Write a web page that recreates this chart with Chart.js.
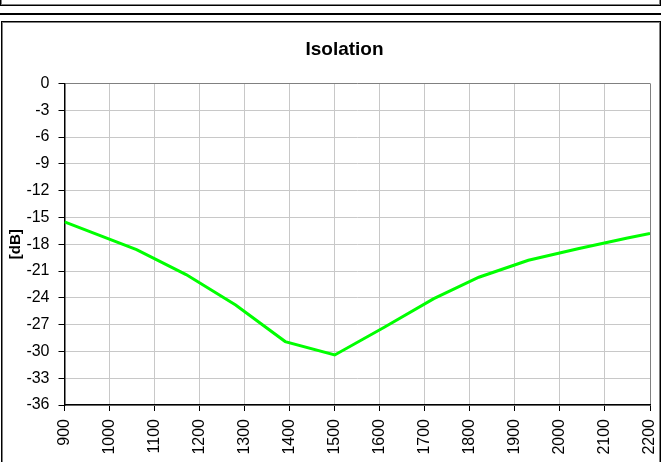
<!DOCTYPE html>
<html>
<head>
<meta charset="utf-8">
<script src="https://cdn.jsdelivr.net/npm/chart.js@4"></script>
<style>
  body { margin: 0; background: #fff; width: 661px; height: 462px; overflow: hidden; position: relative; }
  .box { position: absolute; border: 1px solid #000; box-shadow: inset 1px 1px 0 #808080, inset -1px -1px 0 #808080; box-sizing: border-box; }
  #topbox { left: 0; top: -10px; width: 661px; height: 16px; }
  #bar { position: absolute; left: 0; top: 13px; width: 661px; height: 2px; background: #000; }
  #mainbox { left: 1px; top: 21px; width: 660px; height: 460px; }
  #wrap { position: absolute; left: 0; top: 0; width: 661px; height: 462px; }
</style>
</head>
<body>
<div class="box" id="topbox"></div>
<div id="bar"></div>
<div class="box" id="mainbox"></div>
<div id="wrap"><canvas id="isolation-chart"></canvas></div>
<script>
var freqs = [900, 1060, 1170, 1280, 1390, 1500, 1610, 1720, 1820, 1930, 2040, 2150, 2200];
var isolation = [-15.5, -18.6, -21.4, -24.8, -28.9, -30.4, -27.3, -24.1, -21.7, -19.8, -18.5, -17.3, -16.8];
var yTicks = [0, -3, -6, -9, -12, -15, -18, -21, -24, -27, -30, -33, -36];
var xTicks = [900, 1000, 1100, 1200, 1300, 1400, 1500, 1600, 1700, 1800, 1900, 2000, 2100, 2200];

var font = "'Liberation Sans', Arial, sans-serif";
Chart.defaults.font.family = font;
Chart.defaults.color = '#000';

// title in the reference sits a bit right of the canvas centre
var shiftTitle = {
  id: 'shiftTitle',
  afterLayout: function (chart) {
    if (chart.titleBlock) {
      chart.titleBlock.left = 39;
      chart.titleBlock.right = 650;
    }
  }
};

var ctx = document.getElementById("isolation-chart").getContext('2d');
var myChart = new Chart(ctx, {
    type: 'line',
    plugins: [shiftTitle],
    data: {
      datasets: [{
          label: 'Isolation',
          data: freqs.map(function (f, i) { return { x: f, y: isolation[i] }; }),
          borderColor: '#00ff00',
          borderWidth: 3,
          pointRadius: 0,
          tension: 0
      }]
    },
    options: {
      responsive: true,
      maintainAspectRatio: false,
      animation: false,
      layout: { padding: { left: 3, right: 11, top: 38.6, bottom: 0 } },
      plugins: {
        legend: { display: false },
        tooltip: { enabled: false },
        title: {
          display: true,
          text: 'Isolation',
          color: '#000',
          font: { size: 19, weight: 'bold' },
          padding: { top: 0, bottom: 22 }
        }
      },
      scales: {
        x: {
          type: 'linear',
          min: 900,
          max: 2200,
          afterBuildTicks: function (scale) {
            scale.ticks = xTicks.map(function (v) { return { value: v }; });
          },
          afterFit: function (scale) {
            scale.height = 57;
            scale.paddingLeft = 0;
            scale.paddingRight = 0;
          },
          ticks: {
            minRotation: 90,
            maxRotation: 90,
            padding: 8,
            font: { size: 16 },
            callback: function (v) { return String(v); }
          },
          grid: {
            color: function (c) { return c.tick && c.tick.value === 2200 ? '#808080' : '#c8c8c8'; },
            tickLength: 6,
            tickColor: '#000'
          },
          border: { color: '#000', width: 1.5 }
        },
        y: {
          min: -36,
          max: 0,
          afterBuildTicks: function (scale) {
            scale.ticks = yTicks.map(function (v) { return { value: v }; });
          },
          afterFit: function (scale) {
            scale.width = 61.5;
            scale.paddingTop = 0;
            scale.paddingBottom = 0;
          },
          ticks: {
            padding: 9,
            font: { size: 16 }
          },
          grid: {
            color: function (c) { return c.tick && c.tick.value === 0 ? '#808080' : '#c8c8c8'; },
            tickLength: 6,
            tickColor: '#000'
          },
          border: { color: '#000', width: 1.5 },
          title: {
            display: true,
            text: '[dB]',
            font: { size: 15, weight: 'bold' },
            padding: { top: 3.5, bottom: 0 }
          }
        }
      }
    }
});
</script>
</body>
</html>
